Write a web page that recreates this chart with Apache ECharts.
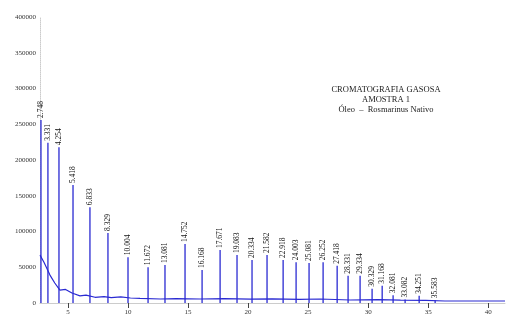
<!DOCTYPE html>
<html>
<head>
<meta charset="utf-8">
<script src="https://cdn.jsdelivr.net/npm/echarts@6/dist/echarts.min.js"></script>
<style>
  html, body { margin: 0; padding: 0; background: #fff; }
  #chart { width: 512px; height: 331px; }
</style>
</head>
<body>
<div id="chart"></div>
<script>
// retention time (min) and intensity of each labelled peak
const peakTimes = [2.75, 3.33, 4.25, 5.42, 6.83, 8.33, 10.0, 11.67, 13.08, 14.75, 16.17, 17.67, 19.08, 20.33,
  21.58, 22.92, 24.0, 25.08, 26.25, 27.42, 28.33, 29.33, 30.33, 31.17, 32.08, 33.08, 34.25, 35.58]
const peakValues = [256000, 224000, 218000, 165000, 134000, 98000, 64000, 50000, 53000, 82500, 46000, 74000, 67000, 60000,
  67000, 60000, 57000, 56000, 57000, 52000, 38000, 38000, 20000, 24000, 11000, 5000, 10000, 4000]
const peakLabels = ["2.748", "3.331", "4.254", "5.418", "6.833", "8.329", "10.004", "11.672", "13.081", "14.752",
  "16.168", "17.671", "19.083", "20.334", "21.582", "22.918", "24.003", "25.081", "26.252", "27.418",
  "28.331", "29.334", "30.329", "31.168", "32.081", "33.082", "34.251", "35.583"]

// baseline of the trace between the peaks
const baseTimes = [2.67, 3.0, 3.5, 3.9, 4.33, 4.8, 5.33, 6.0, 6.5, 7.25, 8.0, 8.6, 9.4, 10.2, 11.0, 12.7, 14.0,
  16.0, 18.0, 20.2, 22.0, 24.3, 26.0, 28.5, 30.8, 32.7, 34.8, 36.4, 38.5, 41.4]
const baseValues = [67000, 57000, 39000, 28000, 18000, 19000, 14000, 10000, 11000, 8000, 9000, 7500, 8500, 7000,
  6500, 5600, 6200, 5600, 6000, 5400, 5800, 5200, 5600, 4200, 4600, 4000, 3600, 2800, 2800, 2800]

const xTicks = [5, 10, 15, 20, 25, 30, 35, 40]

const chart = echarts.init(document.getElementById("chart"))

chart.setOption({
  animation: false,
  backgroundColor: "#fff",
  textStyle: { fontFamily: "Liberation Serif" },
  title: {
    text: "CROMATOGRAFIA GASOSA\nAMOSTRA 1\nÓleo  –  Rosmarinus Nativo",
    left: 381,
    top: 80,
    textAlign: "center",
    textStyle: { fontSize: 8.5, fontWeight: "normal", color: "#222", lineHeight: 10, fontFamily: "Liberation Serif" },
  },
  grid: { left: 40, right: 7, top: 17, bottom: 28 },
  xAxis: {
    type: "value",
    min: 2.67,
    max: 41.4,
    axisLine: { onZero: false, lineStyle: { color: "#ccc", width: 1 } },
    axisTick: { show: true, customValues: xTicks, length: 5, lineStyle: { color: "#444" } },
    axisLabel: { customValues: xTicks, fontSize: 7, color: "#333", margin: 6 },
    splitLine: { show: false },
  },
  yAxis: {
    type: "value",
    min: 0,
    max: 400000,
    interval: 50000,
    axisLine: { show: true, lineStyle: { color: "#ccc", type: "dotted" } },
    axisTick: { show: false },
    axisLabel: { fontSize: 7, color: "#333", margin: 4, formatter: (v) => String(v) },
    splitLine: { show: false },
  },
  series: [
    {
      name: "peaks",
      type: "bar",
      barWidth: 1.3,
      itemStyle: { color: "#2a2ad2" },
      label: {
        show: true,
        position: "top",
        rotate: 90,
        align: "left",
        verticalAlign: "middle",
        distance: 2,
        fontSize: 7.5,
        color: "#111",
        fontFamily: "Liberation Serif",
        formatter: (p) => peakLabels[p.dataIndex],
      },
      data: peakTimes.map((t, i) => [t, peakValues[i]]),
    },
    {
      name: "trace",
      type: "line",
      symbol: "none",
      lineStyle: { color: "#2a2ad2", width: 1.2 },
      data: baseTimes.map((t, i) => [t, baseValues[i]]),
    },
  ],
})
</script>
</body>
</html>
